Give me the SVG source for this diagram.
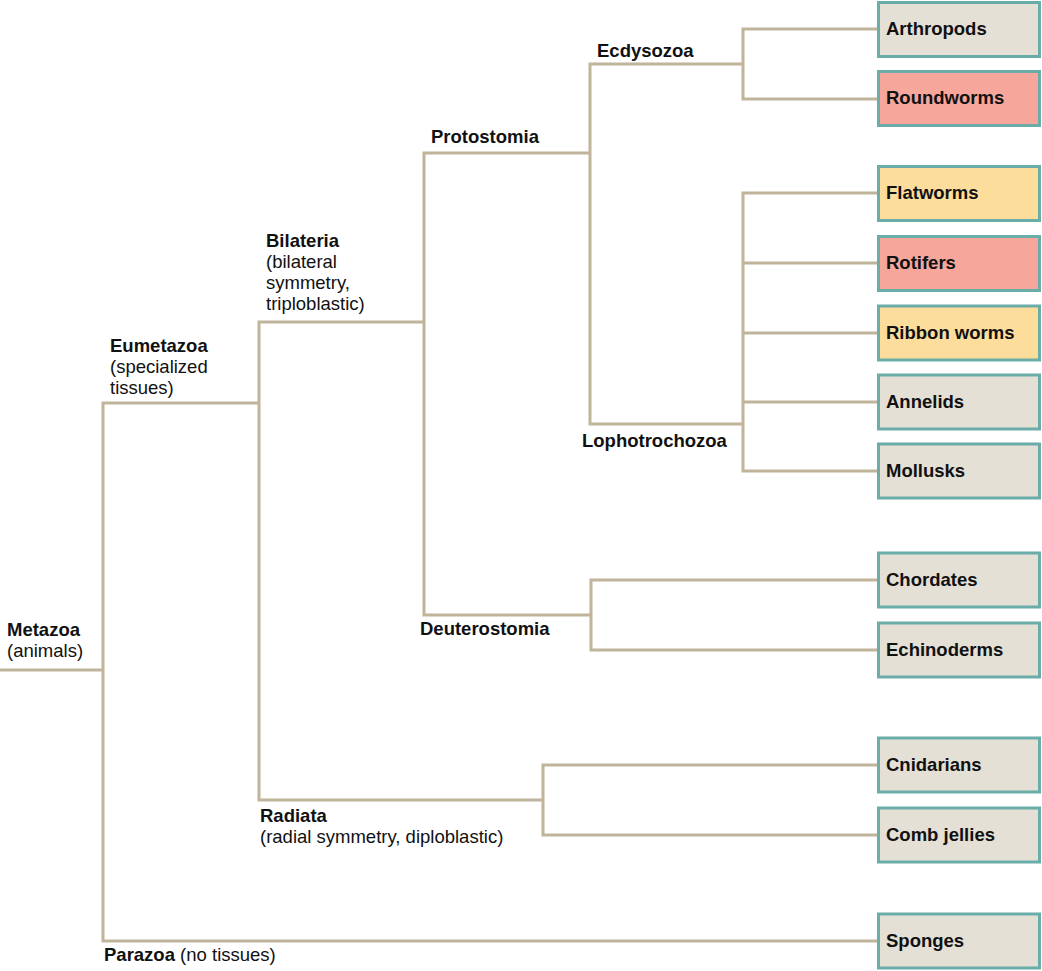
<svg xmlns="http://www.w3.org/2000/svg" width="1042" height="971" viewBox="0 0 1042 971">
<style>
.ln{fill:none;stroke:#c0b49b;stroke-width:3;stroke-linecap:square;stroke-linejoin:miter}
.bx{stroke:#6aaca7;stroke-width:3}
.g{fill:#e4e0d6}.r{fill:#f6a69b}.y{fill:#fddd9c}
text{font-family:"Liberation Sans",Arial,sans-serif;font-size:18.5px;fill:#111}
.b{font-weight:bold}
</style>
<rect width="1042" height="971" fill="#fff"/>
<g id="connectors">
<path class="ln" d="M0,670 H103 M103,403 V941 H877 M103,403 H259 M259,322 V800 M259,322 H424 M259,800 H543 M543,765 V835 M543,765 H877 M543,835 H877 M424,153 V615 M424,153 H590 M424,615 H591 M591,580 V650 M591,580 H877 M591,650 H877 M590,64 V424 M590,64 H743 M590,424 H743 M743,29 V99 M743,29 H877 M743,99 H877 M743,193 V471 M743,193 H877 M743,263 H877 M743,333 H877 M743,402 H877 M743,471 H877"/>
</g>
<g id="labels">
<text x="7" y="636" class="b">Metazoa</text>
<text x="7" y="657">(animals)</text>
<text x="110" y="352" class="b">Eumetazoa</text>
<text x="110" y="373">(specialized</text>
<text x="110" y="394">tissues)</text>
<text x="266" y="247" class="b">Bilateria</text>
<text x="266" y="268">(bilateral</text>
<text x="266" y="289">symmetry,</text>
<text x="266" y="310">triploblastic)</text>
<text x="431" y="143" class="b">Protostomia</text>
<text x="597" y="57" class="b">Ecdysozoa</text>
<text x="582" y="447" class="b">Lophotrochozoa</text>
<text x="420" y="635" class="b">Deuterostomia</text>
<text x="260" y="822" class="b">Radiata</text>
<text x="260" y="843">(radial symmetry, diploblastic)</text>
<text x="104" y="961"><tspan class="b">Parazoa</tspan> (no tissues)</text>
</g>
<g id="arthropods"><rect class="bx g" x="878.5" y="2.5" width="161" height="54"/><text x="886" y="35" class="b">Arthropods</text></g>
<g id="roundworms"><rect class="bx r" x="878.5" y="71.5" width="161" height="54"/><text x="886" y="104" class="b">Roundworms</text></g>
<g id="flatworms"><rect class="bx y" x="878.5" y="166.5" width="161" height="54"/><text x="886" y="199" class="b">Flatworms</text></g>
<g id="rotifers"><rect class="bx r" x="878.5" y="236.5" width="161" height="54"/><text x="886" y="269" class="b">Rotifers</text></g>
<g id="ribbonworms"><rect class="bx y" x="878.5" y="306" width="161" height="54"/><text x="886" y="339" class="b">Ribbon worms</text></g>
<g id="annelids"><rect class="bx g" x="878.5" y="375" width="161" height="54"/><text x="886" y="408" class="b">Annelids</text></g>
<g id="mollusks"><rect class="bx g" x="878.5" y="444" width="161" height="54"/><text x="886" y="477" class="b">Mollusks</text></g>
<g id="chordates"><rect class="bx g" x="878.5" y="553" width="161" height="54"/><text x="886" y="586" class="b">Chordates</text></g>
<g id="echinoderms"><rect class="bx g" x="878.5" y="623" width="161" height="54"/><text x="886" y="656" class="b">Echinoderms</text></g>
<g id="cnidarians"><rect class="bx g" x="878.5" y="738" width="161" height="54"/><text x="886" y="771" class="b">Cnidarians</text></g>
<g id="combjellies"><rect class="bx g" x="878.5" y="808" width="161" height="54"/><text x="886" y="841" class="b">Comb jellies</text></g>
<g id="sponges"><rect class="bx g" x="878.5" y="914" width="161" height="54"/><text x="886" y="947" class="b">Sponges</text></g>
</svg>
